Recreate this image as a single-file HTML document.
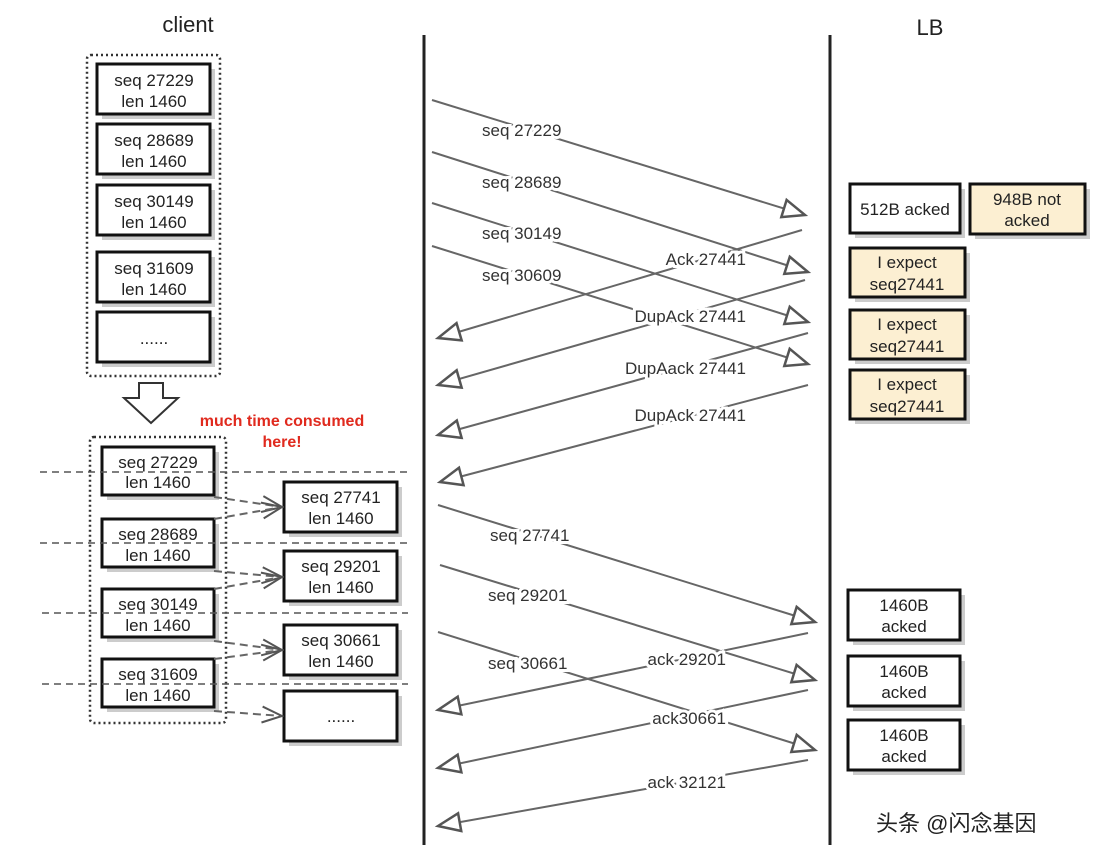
<!DOCTYPE html>
<html><head><meta charset="utf-8"><style>
body{margin:0;background:#fff;}
svg{display:block;font-family:"Liberation Sans","Noto Sans CJK SC",sans-serif;}
.t{font-size:17px;fill:#222;text-anchor:middle;}
.lbl{font-size:17px;fill:#333;paint-order:stroke;stroke:#fff;stroke-width:6px;}
.ar{stroke:#666;stroke-width:2;fill:none;marker-end:url(#h);}
.bx{fill:#fff;stroke:#111;stroke-width:3;}
.tan{fill:#fcefd2;stroke:#111;stroke-width:3;}
.sh{fill:#ccc;}
.dl{stroke:#555;stroke-width:1.5;stroke-dasharray:7 5;}
.da{stroke:#666;stroke-width:2;stroke-dasharray:8 5;fill:none;marker-end:url(#o);}
</style></head><body>
<svg width="1100" height="860" viewBox="0 0 1100 860">
<defs>
<marker id="h" markerWidth="28" markerHeight="22" refX="24" refY="11" orient="auto" markerUnits="userSpaceOnUse">
<path d="M2,2 L24,11 L2,20 Z" fill="#fff" stroke="#555" stroke-width="2.5"/></marker>
<marker id="o" markerWidth="24" markerHeight="20" refX="22" refY="10" orient="auto" markerUnits="userSpaceOnUse">
<path d="M2,2 L22,10 L2,18" fill="none" stroke="#555" stroke-width="2"/></marker>
</defs>
<text x="188" y="32" style="font-size:22px" text-anchor="middle" fill="#222">client</text>
<text x="930" y="35" style="font-size:22px" text-anchor="middle" fill="#222">LB</text>
<line x1="424" y1="35" x2="424" y2="845" stroke="#222" stroke-width="3"/>
<line x1="830" y1="35" x2="830" y2="845" stroke="#222" stroke-width="3"/>

<rect x="87" y="55" width="133" height="321" rx="4" fill="none" stroke="#333" stroke-width="2.5" stroke-dasharray="2 3"/>
<g>
<rect class="sh" x="102" y="69" width="113" height="50"/><rect class="bx" x="97" y="64" width="113" height="50"/>
<text class="t" x="154" y="86">seq 27229</text><text class="t" x="154" y="107">len 1460</text>
<rect class="sh" x="102" y="129" width="113" height="50"/><rect class="bx" x="97" y="124" width="113" height="50"/>
<text class="t" x="154" y="146">seq 28689</text><text class="t" x="154" y="167">len 1460</text>
<rect class="sh" x="102" y="190" width="113" height="50"/><rect class="bx" x="97" y="185" width="113" height="50"/>
<text class="t" x="154" y="207">seq 30149</text><text class="t" x="154" y="228">len 1460</text>
<rect class="sh" x="102" y="257" width="113" height="50"/><rect class="bx" x="97" y="252" width="113" height="50"/>
<text class="t" x="154" y="274">seq 31609</text><text class="t" x="154" y="295">len 1460</text>
<rect class="sh" x="102" y="317" width="113" height="50"/><rect class="bx" x="97" y="312" width="113" height="50"/>
<text class="t" x="154" y="344">......</text>
</g>
<path d="M139,383 L163,383 L163,398 L178,398 L151,423 L124,398 L139,398 Z" fill="#fff" stroke="#333" stroke-width="2"/>
<text x="282" y="426" text-anchor="middle" fill="#e02a1e" style="font-size:16px;font-weight:bold">much time consumed</text>
<text x="282" y="447" text-anchor="middle" fill="#e02a1e" style="font-size:16px;font-weight:bold">here!</text>

<rect x="90" y="437" width="136" height="286" rx="4" fill="none" stroke="#333" stroke-width="2.5" stroke-dasharray="2 3"/>
<g>
<rect class="sh" x="107" y="452" width="112" height="48"/><rect class="bx" x="102" y="447" width="112" height="48"/>
<text class="t" x="158" y="468">seq 27229</text><text class="t" x="158" y="488">len 1460</text>
<rect class="sh" x="107" y="524" width="112" height="48"/><rect class="bx" x="102" y="519" width="112" height="48"/>
<text class="t" x="158" y="540">seq 28689</text><text class="t" x="158" y="561">len 1460</text>
<rect class="sh" x="107" y="594" width="112" height="48"/><rect class="bx" x="102" y="589" width="112" height="48"/>
<text class="t" x="158" y="610">seq 30149</text><text class="t" x="158" y="631">len 1460</text>
<rect class="sh" x="107" y="664" width="112" height="48"/><rect class="bx" x="102" y="659" width="112" height="48"/>
<text class="t" x="158" y="680">seq 31609</text><text class="t" x="158" y="701">len 1460</text>

<rect class="sh" x="289" y="487" width="113" height="50"/><rect class="bx" x="284" y="482" width="113" height="50"/>
<text class="t" x="341" y="503">seq 27741</text><text class="t" x="341" y="524">len 1460</text>
<rect class="sh" x="289" y="556" width="113" height="50"/><rect class="bx" x="284" y="551" width="113" height="50"/>
<text class="t" x="341" y="572">seq 29201</text><text class="t" x="341" y="593">len 1460</text>
<rect class="sh" x="289" y="630" width="113" height="50"/><rect class="bx" x="284" y="625" width="113" height="50"/>
<text class="t" x="341" y="646">seq 30661</text><text class="t" x="341" y="667">len 1460</text>
<rect class="sh" x="289" y="696" width="113" height="50"/><rect class="bx" x="284" y="691" width="113" height="50"/>
<text class="t" x="341" y="722">......</text>
</g>
<line class="dl" x1="40" y1="472" x2="408" y2="472"/>
<line class="dl" x1="40" y1="543" x2="408" y2="543"/>
<line class="dl" x1="42" y1="613" x2="408" y2="613"/>
<line class="dl" x1="42" y1="684" x2="408" y2="684"/>
<path class="da" d="M214,497 L282,507"/><path class="da" d="M214,519 L282,507"/>
<path class="da" d="M214,571 L282,577"/><path class="da" d="M214,589 L282,577"/>
<path class="da" d="M214,641 L282,650"/><path class="da" d="M214,659 L282,650"/>
<path class="da" d="M214,711 L282,716"/>

<line class="ar" x1="432" y1="100" x2="805" y2="215"/>
<line class="ar" x1="432" y1="152" x2="808" y2="272"/>
<line class="ar" x1="432" y1="203" x2="808" y2="322"/>
<line class="ar" x1="432" y1="246" x2="808" y2="364"/>
<line class="ar" x1="802" y1="230" x2="438" y2="338"/>
<line class="ar" x1="805" y1="280" x2="438" y2="385"/>
<line class="ar" x1="808" y1="333" x2="438" y2="435"/>
<line class="ar" x1="808" y1="385" x2="440" y2="482"/>
<text class="lbl" x="482" y="136">seq 27229</text>
<text class="lbl" x="482" y="188">seq 28689</text>
<text class="lbl" x="482" y="239">seq 30149</text>
<text class="lbl" x="482" y="281">seq 30609</text>
<text class="lbl" x="746" y="265" text-anchor="end">Ack 27441</text>
<text class="lbl" x="746" y="322" text-anchor="end">DupAck 27441</text>
<text class="lbl" x="746" y="374" text-anchor="end">DupAack 27441</text>
<text class="lbl" x="746" y="421" text-anchor="end">DupAck 27441</text>

<line class="ar" x1="438" y1="505" x2="815" y2="622"/>
<line class="ar" x1="440" y1="565" x2="815" y2="680"/>
<line class="ar" x1="438" y1="632" x2="815" y2="750"/>
<line class="ar" x1="808" y1="633" x2="438" y2="710"/>
<line class="ar" x1="808" y1="690" x2="438" y2="768"/>
<line class="ar" x1="808" y1="760" x2="438" y2="826"/>
<text class="lbl" x="490" y="541">seq 27741</text>
<text class="lbl" x="488" y="601">seq 29201</text>
<text class="lbl" x="488" y="669">seq 30661</text>
<text class="lbl" x="726" y="665" text-anchor="end">ack 29201</text>
<text class="lbl" x="726" y="724" text-anchor="end">ack30661</text>
<text class="lbl" x="726" y="788" text-anchor="end">ack 32121</text>

<rect class="sh" x="855" y="189" width="110" height="49"/><rect class="bx" x="850" y="184" width="110" height="49"/>
<text class="t" x="905" y="215">512B acked</text>
<rect class="sh" x="975" y="189" width="115" height="50"/><rect class="tan" x="970" y="184" width="115" height="50"/>
<text class="t" x="1027" y="205">948B not</text><text class="t" x="1027" y="226">acked</text>
<rect class="sh" x="855" y="253" width="115" height="49"/><rect class="tan" x="850" y="248" width="115" height="49"/>
<text class="t" x="907" y="268">I expect</text><text class="t" x="907" y="290">seq27441</text>
<rect class="sh" x="855" y="315" width="115" height="49"/><rect class="tan" x="850" y="310" width="115" height="49"/>
<text class="t" x="907" y="330">I expect</text><text class="t" x="907" y="352">seq27441</text>
<rect class="sh" x="855" y="375" width="115" height="49"/><rect class="tan" x="850" y="370" width="115" height="49"/>
<text class="t" x="907" y="390">I expect</text><text class="t" x="907" y="412">seq27441</text>

<rect class="sh" x="853" y="595" width="112" height="50"/><rect class="bx" x="848" y="590" width="112" height="50"/>
<text class="t" x="904" y="611">1460B</text><text class="t" x="904" y="632">acked</text>
<rect class="sh" x="853" y="661" width="112" height="50"/><rect class="bx" x="848" y="656" width="112" height="50"/>
<text class="t" x="904" y="677">1460B</text><text class="t" x="904" y="698">acked</text>
<rect class="sh" x="853" y="725" width="112" height="50"/><rect class="bx" x="848" y="720" width="112" height="50"/>
<text class="t" x="904" y="741">1460B</text><text class="t" x="904" y="762">acked</text>

<text x="876" y="831" fill="#222" style="font-size:22px;font-family:'Liberation Sans','Noto Sans CJK SC',sans-serif">头条 @闪念基因</text>
</svg>
</body></html>
